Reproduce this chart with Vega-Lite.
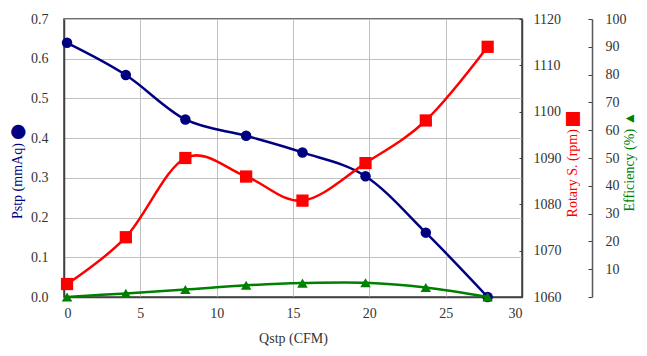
{
  "$schema": "https://vega.github.io/schema/vega-lite/v6.json",
  "width": 458,
  "height": 278,
  "autosize": {"type": "none"},
  "padding": {"left": 64, "top": 19, "right": 125, "bottom": 59},
  "background": "white",
  "config": {
    "font": "Liberation Serif, DejaVu Sans, serif",
    "view": {"stroke": "#404040", "strokeWidth": 1.5},
    "axis": {
      "labelFont": "Liberation Serif, DejaVu Sans, serif",
      "titleFont": "Liberation Serif, DejaVu Sans, serif",
      "labelFontSize": 14,
      "titleFontSize": 14,
      "titleFontWeight": "normal",
      "labelColor": "#333333",
      "domainColor": "#404040",
      "domainWidth": 1.5,
      "tickColor": "#404040",
      "gridColor": "#c0c0c0",
      "gridWidth": 1
    }
  },
  "data": {
    "values": [
      {"q": 0.2, "pstp": 0.640, "rpm": 1062.8, "eff": 0.0},
      {"q": 4.05, "pstp": 0.559, "rpm": 1072.9, "eff": 1.3},
      {"q": 7.95, "pstp": 0.447, "rpm": 1090.0, "eff": 2.7},
      {"q": 11.93, "pstp": 0.406, "rpm": 1086.0, "eff": 4.2},
      {"q": 15.62, "pstp": 0.364, "rpm": 1080.8, "eff": 5.0},
      {"q": 19.75, "pstp": 0.304, "rpm": 1088.9, "eff": 5.1},
      {"q": 23.7, "pstp": 0.162, "rpm": 1098.1, "eff": 3.4},
      {"q": 27.75, "pstp": 0.0, "rpm": 1114.0, "eff": 0.0}
    ]
  },
  "layer": [
    {
      "encoding": {
        "x": {
          "field": "q", "type": "quantitative",
          "scale": {"domain": [0, 30], "nice": false},
          "axis": {
            "values": [0, 5, 10, 15, 20, 25, 30],
            "title": "Qstp (CFM)",
            "titleColor": "#333333",
            "tickSize": 0,
            "labelPadding": 9,
            "titleX": 229, "titleY": 41,
            "titleAlign": "center", "titleBaseline": "middle",
            "grid": true
          }
        },
        "y": {
          "field": "pstp", "type": "quantitative",
          "scale": {"domain": [0, 0.7], "nice": false},
          "axis": {
            "values": [0, 0.1, 0.2, 0.3, 0.4, 0.5, 0.6, 0.7],
            "format": ".1f",
            "title": "Pstp (mmAq) ⬤",
            "titleColor": "#000080",
            "tickSize": 0,
            "labelPadding": 16,
            "titleAngle": 270,
            "titleX": -47, "titleY": 152,
            "titleAlign": "center", "titleBaseline": "middle",
            "grid": true
          }
        }
      },
      "layer": [
        {"mark": {"type": "line", "color": "#000080", "strokeWidth": 2.5, "interpolate": "cardinal"}},
        {"mark": {"type": "point", "shape": "circle", "filled": true, "opacity": 1, "color": "#000080", "size": 110}}
      ]
    },
    {
      "encoding": {
        "x": {"field": "q", "type": "quantitative", "scale": {"domain": [0, 30], "nice": false}},
        "y": {
          "field": "rpm", "type": "quantitative",
          "scale": {"domain": [1060, 1120], "nice": false, "zero": false},
          "axis": {
            "orient": "right",
            "values": [1060, 1070, 1080, 1090, 1100, 1110, 1120],
            "format": "d",
            "title": "Rotary S. (rpm) ⬛\ufe0e",
            "titleColor": "#ff0000",
            "tickSize": -3,
            "labelPadding": 14,
            "titleAngle": 270,
            "titleX": 50, "titleY": 145,
            "titleAlign": "center", "titleBaseline": "middle",
            "grid": false
          }
        }
      },
      "layer": [
        {"mark": {"type": "line", "color": "#ff0000", "strokeWidth": 2.5, "interpolate": "cardinal"}},
        {"mark": {"type": "point", "shape": "square", "filled": true, "opacity": 1, "color": "#ff0000", "size": 150}}
      ]
    },
    {
      "encoding": {
        "x": {"field": "q", "type": "quantitative", "scale": {"domain": [0, 30], "nice": false}},
        "y": {
          "field": "eff", "type": "quantitative",
          "scale": {"domain": [0, 100], "nice": false},
          "axis": {
            "orient": "right",
            "offset": 70,
            "values": [0, 10, 20, 30, 40, 50, 60, 70, 80, 90, 100],
            "labelExpr": "datum.value == 0 ? '' : datum.label",
            "title": "Efficiency (%) ▲",
            "titleColor": "#008000",
            "domainColor": "#595959",
            "tickColor": "#404040",
            "tickSize": -4,
            "labelPadding": 17,
            "titleAngle": 270,
            "titleX": 37, "titleY": 142,
            "titleAlign": "center", "titleBaseline": "middle",
            "grid": false
          }
        }
      },
      "layer": [
        {"mark": {"type": "line", "color": "#008000", "strokeWidth": 2.5, "interpolate": "cardinal"}},
        {"mark": {"type": "point", "shape": "triangle-up", "filled": true, "opacity": 1, "color": "#008000", "size": 110}}
      ]
    }
  ],
  "resolve": {"scale": {"y": "independent"}}
}
